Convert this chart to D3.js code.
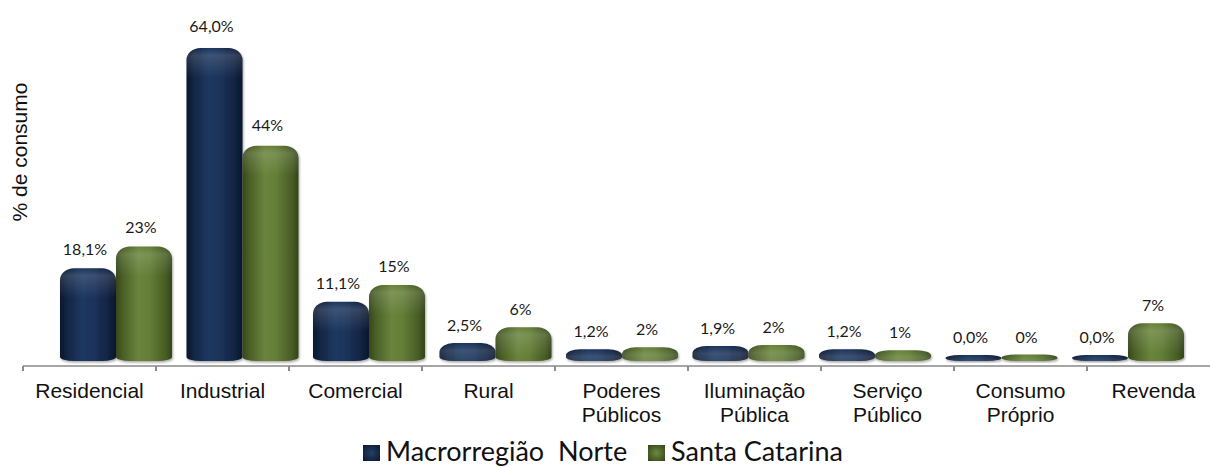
<!DOCTYPE html>
<html>
<head>
<meta charset="utf-8">
<script src="https://cdn.jsdelivr.net/npm/d3@7"></script>
<style>
  html, body { margin: 0; padding: 0; background: #ffffff; }
  svg { display: block; }
</style>
</head>
<body>
<div id="chart"></div>
<script>
// Consumo de energia por classe (% do total)
const categories = ["Residencial", "Industrial", "Comercial", "Rural", "Poderes Públicos",
  "Iluminação Pública", "Serviço Público", "Consumo Próprio", "Revenda"];
const seriesNames = ["Macrorregião  Norte", "Santa Catarina"];
const macroNorte = [18.1, 64.0, 11.1, 2.5, 1.2, 1.9, 1.2, 0.0, 0.0];
const santaCatarina = [22.6, 43.6, 14.6, 5.8, 1.6, 2.1, 1.0, 0.1, 6.6];
const yAxisTitle = "% de consumo";

const W = 1210, H = 467;
const svg = d3.select("#chart").append("svg").attr("width", W).attr("height", H);
svg.append("rect").attr("width", W).attr("height", H).attr("fill", "#fff");

const defs = svg.append("defs");

// cylinder shading for each series
function cylGradient(id, stops) {
  const g = defs.append("linearGradient").attr("id", id)
    .attr("x1", "0%").attr("x2", "100%").attr("y1", "0%").attr("y2", "0%");
  stops.forEach(([o, c]) => g.append("stop").attr("offset", o).attr("stop-color", c));
}
cylGradient("gBlue", [["0%", "#0b172b"], ["12%", "#122543"], ["40%", "#1f3860"], ["60%", "#1c335a"], ["88%", "#112240"], ["100%", "#0a152a"]]);
cylGradient("gGreen", [["0%", "#36461a"], ["12%", "#4a5f26"], ["40%", "#69843c"], ["60%", "#637e37"], ["88%", "#485d25"], ["100%", "#33431a"]]);

const shadow = defs.append("filter").attr("id", "fShadow")
  .attr("x", "-20%").attr("y", "-20%").attr("width", "140%").attr("height", "140%");
shadow.append("feDropShadow").attr("dx", 1).attr("dy", 1.5).attr("stdDeviation", 1.2)
  .attr("flood-color", "#000").attr("flood-opacity", 0.35);

// legend swatch bevel
function swatchGradient(id, inner, outer) {
  const g = defs.append("radialGradient").attr("id", id).attr("r", "75%");
  g.append("stop").attr("offset", "0%").attr("stop-color", inner);
  g.append("stop").attr("offset", "100%").attr("stop-color", outer);
}
swatchGradient("sBlue", "#243f68", "#0a1529");
swatchGradient("sGreen", "#6d8a3e", "#2f3e16");

// scales
const y = d3.scaleLinear().domain([0, 64]).range([355, 48]);
const xAxis = d3.scaleBand().domain(categories).range([23, 1220]);
const xBars = d3.scalePoint().domain(categories).range([116, 1128]);
const barW = 56;
const baseBottom = y(0) + 6;
const axisY = 366;

function barPath(x0, x1, yTop, yBot) {
  const w = x1 - x0, h = yBot - yTop;
  const rx = Math.min(14, w / 2), ry = Math.min(12, h / 2);
  const bx = Math.min(14, w / 2), by = Math.min(4, h / 2);
  return `M${x0},${yTop + ry}` +
    `A${rx},${ry} 0 0 1 ${x0 + rx},${yTop}` +
    `L${x1 - rx},${yTop}` +
    `A${rx},${ry} 0 0 1 ${x1},${yTop + ry}` +
    `L${x1},${yBot - by}` +
    `A${bx},${by} 0 0 1 ${x1 - bx},${yBot}` +
    `L${x0 + bx},${yBot}` +
    `A${bx},${by} 0 0 1 ${x0},${yBot - by}Z`;
}

// short glossy band just under each rounded top
function sheenGradient(id, top) {
  const g = defs.append("linearGradient").attr("id", id)
    .attr("gradientUnits", "userSpaceOnUse")
    .attr("x1", 0).attr("x2", 0).attr("y1", top).attr("y2", top + 30);
  g.append("stop").attr("offset", "0%").attr("stop-color", "#fff").attr("stop-opacity", 0.0);
  g.append("stop").attr("offset", "25%").attr("stop-color", "#fff").attr("stop-opacity", 0.14);
  g.append("stop").attr("offset", "100%").attr("stop-color", "#fff").attr("stop-opacity", 0.0);
}

const series = [
  { name: seriesNames[0], values: macroNorte, fill: "url(#gBlue)", offset: -barW, fmt: v => d3.format(".1f")(v).replace(".", ",") + "%" },
  { name: seriesNames[1], values: santaCatarina, fill: "url(#gGreen)", offset: 0, fmt: v => d3.format(".0f")(v) + "%" }
];

// axis line and boundary ticks
const axis = svg.append("g");
axis.append("line").attr("x1", xAxis.range()[0]).attr("x2", W).attr("y1", axisY).attr("y2", axisY)
  .attr("stroke", "#a6a6a6").attr("stroke-width", 2);
const bounds = categories.map(c => xAxis(c));
axis.selectAll("line.tick").data(bounds).join("line").attr("class", "tick")
  .attr("x1", d => d).attr("x2", d => d).attr("y1", axisY).attr("y2", axisY + 5)
  .attr("stroke", "#8c8c8c").attr("stroke-width", 2);

// bars
series.forEach((s, si) => {
  const g = svg.append("g");
  categories.forEach((c, i) => {
    const v = s.values[i];
    const x0 = xBars(c) + s.offset, x1 = x0 + barW;
    const top = y(v);
    const d = barPath(x0, x1, top, baseBottom);
    const sid = `sheen${si}_${i}`;
    sheenGradient(sid, top);
    g.append("path").attr("d", d).attr("fill", s.fill).attr("filter", "url(#fShadow)");
    g.append("path").attr("d", d).attr("fill", `url(#${sid})`);
    g.append("text")
      .attr("x", (x0 + x1) / 2 - 3)
      .attr("y", top - 12 - 4 * v / 64)
      .attr("text-anchor", "middle")
      .attr("font-family", "Lato, 'Open Sans', sans-serif")
      .attr("font-size", 16)
      .attr("fill", "#1a1a1a")
      .text(s.fmt(v));
  });
});

// category labels
const labels = svg.append("g")
  .attr("font-family", "'Liberation Sans', Arial, sans-serif")
  .attr("font-size", 21).attr("fill", "#111").attr("text-anchor", "middle");
categories.forEach(c => {
  const t = labels.append("text").attr("x", xAxis(c) + xAxis.bandwidth() / 2).attr("y", 398);
  c.split(" ").forEach((word, j) => {
    t.append("tspan").attr("x", xAxis(c) + xAxis.bandwidth() / 2).attr("dy", j === 0 ? 0 : 24).text(word);
  });
});

// y axis title
svg.append("text")
  .attr("transform", "translate(27,152) rotate(-90)")
  .attr("text-anchor", "middle")
  .attr("font-family", "'Liberation Sans', Arial, sans-serif")
  .attr("font-size", 21).attr("fill", "#111")
  .text(yAxisTitle);

// legend
const legend = svg.append("g")
  .attr("font-family", "Lato, 'Open Sans', sans-serif").attr("font-size", 27).attr("fill", "#111");
const legendItems = [
  { name: seriesNames[0], swatch: "url(#sBlue)", x: 363 },
  { name: seriesNames[1], swatch: "url(#sGreen)", x: 648 }
];
legendItems.forEach(it => {
  legend.append("rect").attr("x", it.x).attr("y", 445).attr("width", 17).attr("height", 16).attr("fill", it.swatch);
  legend.append("text").attr("x", it.x + 23).attr("y", 461).style("white-space", "pre").text(it.name);
});
</script>
</body>
</html>
